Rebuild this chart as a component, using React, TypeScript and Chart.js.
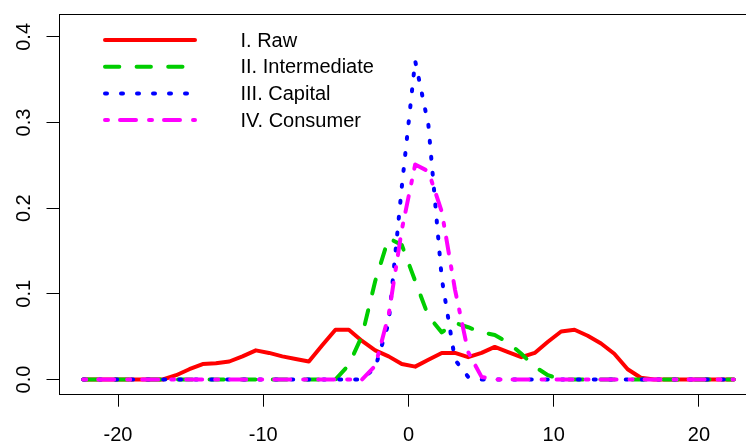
import React, { useEffect, useRef } from "react";
import { Chart, registerables } from "chart.js";

Chart.register(...registerables);

// ---- data ----
const xValues = [
  -22.4, -21.49, -20.57, -19.66, -18.74, -17.83, -16.91, -16.0, -15.09, -14.17,
  -13.26, -12.34, -11.43, -10.51, -9.6, -8.69, -7.77, -6.86, -5.94, -5.03,
  -4.11, -3.2, -2.29, -1.37, -0.46, 0.46, 1.37, 2.29, 3.2, 4.11,
  5.03, 5.94, 6.86, 7.77, 8.69, 9.6, 10.51, 11.43, 12.34, 13.26,
  14.17, 15.09, 16.0, 16.91, 17.83, 18.74, 19.66, 20.57, 21.49, 22.4,
];

const rawValues = [
  0, 0, 0, 0, 0, 0, 0, 0.005, 0.012, 0.018,
  0.019, 0.021, 0.027, 0.034, 0.031, 0.027, 0.024, 0.021, 0.04, 0.058,
  0.058, 0.045, 0.034, 0.027, 0.018, 0.015, 0.023, 0.031, 0.031, 0.026,
  0.031, 0.038, 0.032, 0.026, 0.031, 0.044, 0.056, 0.058, 0.051, 0.042,
  0.03, 0.012, 0.002, 0, 0, 0, 0, 0, 0, 0,
];

const intermediateValues = [
  0, 0, 0, 0, 0, 0, 0, 0, 0, 0,
  0, 0, 0, 0, 0, 0, 0, 0, 0, 0,
  0.017, 0.051, 0.115, 0.165, 0.157, 0.115, 0.074, 0.055, 0.066, 0.061,
  0.055, 0.052, 0.043, 0.03, 0.015, 0.005, 0, 0, 0, 0,
  0, 0, 0, 0, 0, 0, 0, 0, 0, 0,
];

const capitalValues = [
  0, 0, 0, 0, 0, 0, 0, 0, 0, 0,
  0, 0, 0, 0, 0, 0, 0, 0, 0, 0,
  0, 0, 0.014, 0.066, 0.225, 0.372, 0.297, 0.118, 0.023, 0.003,
  0, 0, 0, 0, 0, 0, 0, 0, 0, 0,
  0, 0, 0, 0, 0, 0, 0, 0, 0, 0,
];

const consumerValues = [
  0, 0, 0, 0, 0, 0, 0, 0, 0, 0,
  0, 0, 0, 0, 0, 0, 0, 0, 0, 0,
  0, 0, 0.016, 0.075, 0.175, 0.251, 0.243, 0.196, 0.105, 0.032,
  0.003, 0, 0, 0, 0, 0, 0, 0, 0, 0,
  0, 0, 0, 0, 0, 0, 0, 0, 0, 0,
];

const seriesLabels = ["I. Raw", "II. Intermediate", "III. Capital", "IV. Consumer"];
const xTickValues = [-20, -10, 0, 10, 20];
const yTickValues = [0, 0.1, 0.2, 0.3, 0.4];

const FONT = '"Liberation Sans", Arial, sans-serif';

const toPoints = (ys: number[]) => xValues.map((x, i) => ({ x, y: ys[i] }));

const boxPlugin = {
  id: "rBox",
  afterDraw(chart: any) {
    const { ctx, chartArea } = chart;
    ctx.save();
    ctx.strokeStyle = "#000";
    ctx.lineWidth = 1;
    ctx.setLineDash([]);
    const l = Math.round(chartArea.left) - 0.5;
    const t = Math.round(chartArea.top) + 0.5;
    const r = Math.round(chartArea.right) + 0.5;
    const b = Math.round(chartArea.bottom) + 0.5;
    ctx.strokeRect(l, t, r - l, b - t);
    ctx.restore();
  },
};

const legendPlugin = {
  id: "rLegend",
  afterDraw(chart: any) {
    const { ctx, chartArea } = chart;
    ctx.save();
    const lineX0 = chartArea.left + 45.5;
    const lineX1 = chartArea.left + 135.5;
    const textX = chartArea.left + 181;
    const top = chartArea.top + 26;
    const step = 26.7;
    chart.data.datasets.forEach((ds: any, i: number) => {
      const y = top + i * step;
      ctx.beginPath();
      ctx.setLineDash(ds.borderDash || []);
      ctx.lineDashOffset = 0;
      ctx.lineWidth = ds.borderWidth;
      ctx.lineCap = "round";
      ctx.strokeStyle = ds.borderColor;
      ctx.moveTo(lineX0, y);
      ctx.lineTo(lineX1, y);
      ctx.stroke();
      ctx.setLineDash([]);
      ctx.fillStyle = "#000";
      ctx.font = `20px ${FONT}`;
      ctx.textAlign = "left";
      ctx.textBaseline = "middle";
      ctx.fillText(ds.label, textX, y + 1);
    });
    ctx.restore();
  },
};

export default function App() {
  const canvasRef = useRef<HTMLCanvasElement | null>(null);

  useEffect(() => {
    if (!canvasRef.current) return;
    const common = {
      pointRadius: 0,
      pointHoverRadius: 0,
      tension: 0,
      borderWidth: 4,
      borderCapStyle: "round",
      borderJoinStyle: "round",
      fill: false,
    };
    const chart = new Chart(canvasRef.current, {
      type: "line",
      data: {
        datasets: [
          { ...common, label: seriesLabels[0], data: toPoints(rawValues), borderColor: "#FF0000", borderDash: [], order: 3 },
          { ...common, label: seriesLabels[1], data: toPoints(intermediateValues), borderColor: "#00CD00", borderDash: [14.3, 17.3], order: 2 },
          { ...common, label: seriesLabels[2], data: toPoints(capitalValues), borderColor: "#0000FF", borderDash: [2, 14], order: 1 },
          { ...common, label: seriesLabels[3], data: toPoints(consumerValues), borderColor: "#FF00FF", borderDash: [3, 12, 16, 13], order: 0 },
        ] as any,
      },
      options: {
        animation: false,
        responsive: false,
        devicePixelRatio: 1,
        events: [],
        layout: { padding: { top: 14, right: 22.5, left: 0, bottom: 0 } },
        plugins: { legend: { display: false }, tooltip: { enabled: false } },
        scales: {
          x: {
            type: "linear",
            min: -24.03,
            max: 24.03,
            afterBuildTicks: (s: any) => {
              s.ticks = xTickValues.map((v) => ({ value: v }));
            },
            afterFit: (s: any) => {
              s.height = 47.3;
              s.paddingLeft = 0;
              s.paddingRight = 0;
              s.paddingTop = 0;
              s.paddingBottom = 0;
            },
            border: { display: false },
            grid: { drawOnChartArea: false, drawTicks: true, tickLength: 13, color: "#000", lineWidth: 1 },
            ticks: {
              autoSkip: false,
              maxRotation: 0,
              padding: 17,
              color: "#000",
              font: { family: FONT, size: 20 },
              callback: (v: any) => String(v),
            },
          },
          y: {
            type: "linear",
            min: -0.0166,
            max: 0.4267,
            afterBuildTicks: (s: any) => {
              s.ticks = yTickValues.map((v) => ({ value: v }));
            },
            afterFit: (s: any) => {
              s.width = 59.5;
              s.paddingLeft = 0;
              s.paddingRight = 0;
              s.paddingTop = 0;
              s.paddingBottom = 0;
            },
            border: { display: false },
            grid: { drawOnChartArea: false, drawTicks: true, tickLength: 13, color: "#000", lineWidth: 1 },
            ticks: {
              autoSkip: false,
              minRotation: 90,
              maxRotation: 90,
              crossAlign: "center",
              padding: 8,
              color: "#000",
              font: { family: FONT, size: 20 },
              callback: (v: any) => Number(v).toFixed(1),
            },
          },
        },
      } as any,
      plugins: [boxPlugin, legendPlugin],
    });
    return () => chart.destroy();
  }, []);

  return (
    <div style={{ position: "fixed", left: 0, top: 0, width: 746, height: 441, overflow: "hidden", background: "#fff" }}>
      <canvas ref={canvasRef} width={780} height={441} style={{ display: "block" }} />
    </div>
  );
}
